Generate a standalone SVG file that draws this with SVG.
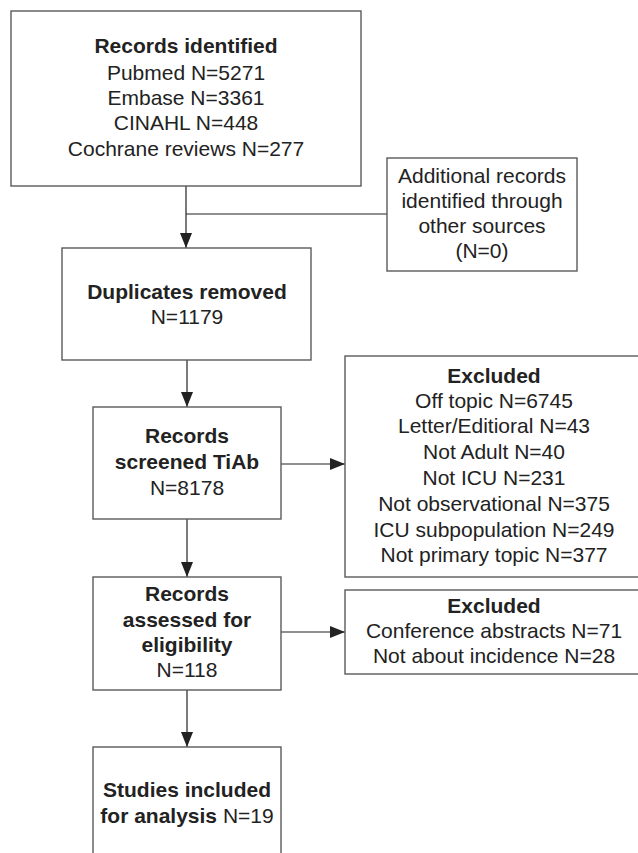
<svg xmlns="http://www.w3.org/2000/svg" width="638" height="853" viewBox="0 0 638 853">
<style>
.box{fill:#fff;stroke:#5a5a5a;stroke-width:1.4}
.line{stroke:#222;stroke-width:1.2;fill:none}
text{font-family:"Liberation Sans",Arial,sans-serif;font-size:21px;fill:#222;text-anchor:middle}
.b{font-weight:bold}
</style>
<defs>
<marker id="ah" markerWidth="15" markerHeight="12" refX="15" refY="6" orient="auto" markerUnits="userSpaceOnUse">
<path d="M0,0 L15,6 L0,12 Z" fill="#222"/>
</marker>
</defs>
<rect width="638" height="853" fill="#fff"/>
<g id="connectors">
<line class="line" x1="186" y1="186" x2="186" y2="248" marker-end="url(#ah)"/>
<line class="line" x1="186" y1="214" x2="387" y2="214"/>
<line class="line" x1="187" y1="360" x2="187" y2="407" marker-end="url(#ah)"/>
<line class="line" x1="281" y1="464" x2="345" y2="464" marker-end="url(#ah)"/>
<line class="line" x1="187" y1="519" x2="187" y2="577" marker-end="url(#ah)"/>
<line class="line" x1="281" y1="632" x2="345" y2="632" marker-end="url(#ah)"/>
<line class="line" x1="187" y1="690" x2="187" y2="747" marker-end="url(#ah)"/>
</g>
<g id="identified">
<rect class="box" x="11" y="11" width="350" height="175"/>
<text x="186" y="53" class="b">Records identified</text>
<text x="186" y="80">Pubmed N=5271</text>
<text x="186" y="105">Embase N=3361</text>
<text x="186" y="130">CINAHL N=448</text>
<text x="186" y="156">Cochrane reviews N=277</text>
</g>
<g id="additional">
<rect class="box" x="387" y="158" width="190" height="113"/>
<text x="482" y="183">Additional records</text>
<text x="482" y="208">identified through</text>
<text x="482" y="233">other sources</text>
<text x="482" y="258">(N=0)</text>
</g>
<g id="duplicates">
<rect class="box" x="62" y="248" width="249" height="112"/>
<text x="187" y="299" class="b">Duplicates removed</text>
<text x="187" y="324">N=1179</text>
</g>
<g id="screened">
<rect class="box" x="93" y="407" width="188" height="112"/>
<text x="187" y="443" class="b">Records</text>
<text x="187" y="469" class="b">screened TiAb</text>
<text x="187" y="495">N=8178</text>
</g>
<g id="excluded1">
<rect class="box" x="345" y="356" width="300" height="221"/>
<text x="494" y="383" class="b">Excluded</text>
<text x="494" y="408">Off topic N=6745</text>
<text x="494" y="433">Letter/Editioral N=43</text>
<text x="494" y="459">Not Adult N=40</text>
<text x="494" y="485">Not ICU N=231</text>
<text x="494" y="511">Not observational N=375</text>
<text x="494" y="537">ICU subpopulation N=249</text>
<text x="494" y="562">Not primary topic N=377</text>
</g>
<g id="assessed">
<rect class="box" x="93" y="577" width="188" height="113"/>
<text x="187" y="601" class="b">Records</text>
<text x="187" y="627" class="b">assessed for</text>
<text x="187" y="652" class="b">eligibility</text>
<text x="187" y="677">N=118</text>
</g>
<g id="excluded2">
<rect class="box" x="345" y="590" width="300" height="84"/>
<text x="494" y="613" class="b">Excluded</text>
<text x="494" y="638">Conference abstracts N=71</text>
<text x="494" y="663">Not about incidence N=28</text>
</g>
<g id="included">
<rect class="box" x="93" y="747" width="188" height="120"/>
<text x="187" y="797" class="b">Studies included</text>
<text x="187" y="823"><tspan class="b">for analysis</tspan> N=19</text>
</g>
</svg>
